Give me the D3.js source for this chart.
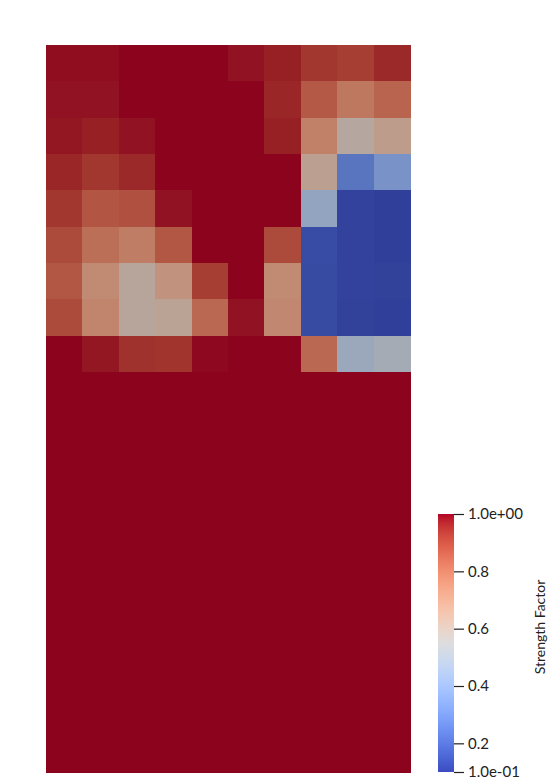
<!DOCTYPE html>
<html>
<head>
<meta charset="utf-8">
<script src="https://cdn.jsdelivr.net/npm/d3@7"></script>
<style>
  body { margin: 0; background: #fff; }
  svg { display: block; }
  text { font-family: "Lato", "Liberation Sans", sans-serif; fill: #222; }
</style>
</head>
<body>
<svg id="chart" width="554" height="784"></svg>
<script>
// Data ------------------------------------------------------------------------------------

// strength factor per cell, top row first, 10 columns x 20 rows
const strengthRows = [
    [0.99, 0.99, 1.00, 1.00, 1.00, 0.985, 0.97, 0.93, 0.915, 0.955],
    [0.985, 0.985, 1.00, 1.00, 1.00, 1.00, 0.96, 0.855, 0.775, 0.83],
    [0.98, 0.97, 0.985, 1.00, 1.00, 1.00, 0.97, 0.75, 0.59, 0.65],
    [0.96, 0.93, 0.955, 1.00, 1.00, 1.00, 1.00, 0.63, 0.26, 0.36],
    [0.93, 0.865, 0.875, 0.985, 1.00, 1.00, 1.00, 0.45, 0.12, 0.11],
    [0.89, 0.80, 0.76, 0.86, 1.00, 1.00, 0.89, 0.145, 0.12, 0.11],
    [0.86, 0.72, 0.60, 0.69, 0.915, 1.00, 0.72, 0.14, 0.12, 0.115],
    [0.89, 0.74, 0.60, 0.62, 0.82, 0.985, 0.73, 0.14, 0.115, 0.11],
    [1.00, 0.98, 0.94, 0.935, 0.995, 1.00, 1.00, 0.82, 0.48, 0.52],
    [1, 1, 1, 1, 1, 1, 1, 1, 1, 1],
    [1, 1, 1, 1, 1, 1, 1, 1, 1, 1],
    [1, 1, 1, 1, 1, 1, 1, 1, 1, 1],
    [1, 1, 1, 1, 1, 1, 1, 1, 1, 1],
    [1, 1, 1, 1, 1, 1, 1, 1, 1, 1],
    [1, 1, 1, 1, 1, 1, 1, 1, 1, 1],
    [1, 1, 1, 1, 1, 1, 1, 1, 1, 1],
    [1, 1, 1, 1, 1, 1, 1, 1, 1, 1],
    [1, 1, 1, 1, 1, 1, 1, 1, 1, 1],
    [1, 1, 1, 1, 1, 1, 1, 1, 1, 1],
    [1, 1, 1, 1, 1, 1, 1, 1, 1, 1]
];

const colorRange = [0.1, 1.0];
const tickValues = [0.2, 0.4, 0.6, 0.8];
const tickLabels = ["0.2", "0.4", "0.6", "0.8"];
const endLabels = ["1.0e-01", "1.0e+00"];
const legendTitle = "Strength Factor";

// cool to warm colour map (Moreland), 33 stops
const coolWarm = [
    [59,76,192],[68,90,204],[77,104,215],[87,117,225],[98,130,234],[108,142,241],
    [119,154,247],[130,165,251],[141,176,254],[152,185,255],[163,194,255],[174,201,253],
    [184,208,249],[194,213,244],[204,217,238],[213,219,230],[221,221,221],[229,216,209],
    [236,211,197],[241,204,185],[245,196,173],[247,187,160],[247,177,148],[247,166,135],
    [244,154,123],[241,141,111],[236,127,99],[229,112,88],[222,96,77],[213,80,66],
    [203,62,56],[192,40,47],[180,4,38]
];

// Colour ----------------------------------------------------------------------------------

const stopDomain = coolWarm.map((c, i) => colorRange[0] + (colorRange[1] - colorRange[0]) * i / (coolWarm.length - 1));
const colorScale = d3.scaleLinear()
    .domain(stopDomain)
    .range(coolWarm.map(c => d3.rgb(c[0], c[1], c[2])))
    .interpolate(d3.interpolateRgb)
    .clamp(true);

// surface is lit, so it looks darker than the bar
const shade = 0.78;
function surfaceColor(v) {
    const c = d3.rgb(colorScale(v));
    return d3.rgb(c.r * shade, c.g * shade, c.b * shade).formatHex();
}

// Draw ------------------------------------------------------------------------------------

const svg = d3.select("#chart");
const nCols = strengthRows[0].length;
const nRows = strengthRows.length;

const x = d3.scaleBand().domain(d3.range(nCols)).range([46, 410]);
const y = d3.scaleBand().domain(d3.range(nRows)).range([45, 772]);

const cells = [];
strengthRows.forEach((row, r) => row.forEach((v, c) => cells.push({ r: r, c: c, v: v })));

svg.append("g")
    .selectAll("rect")
    .data(cells)
    .enter()
    .append("rect")
    .attr("x", d => x(d.c))
    .attr("y", d => y(d.r))
    .attr("width", x.bandwidth() + 0.5)
    .attr("height", y.bandwidth() + 0.5)
    .attr("fill", d => surfaceColor(d.v))
    .attr("shape-rendering", "crispEdges");

// Colour bar ------------------------------------------------------------------------------

const barX = 438, barW = 16;
const barScale = d3.scaleLinear().domain(colorRange).range([772, 514]);

const defs = svg.append("defs");
const grad = defs.append("linearGradient")
    .attr("id", "barGrad")
    .attr("x1", 0).attr("y1", 1).attr("x2", 0).attr("y2", 0);
grad.selectAll("stop")
    .data(coolWarm)
    .enter()
    .append("stop")
    .attr("offset", (d, i) => i / (coolWarm.length - 1))
    .attr("stop-color", d => d3.rgb(d[0], d[1], d[2]).formatHex());

svg.append("rect")
    .attr("x", barX)
    .attr("y", barScale(colorRange[1]))
    .attr("width", barW)
    .attr("height", barScale(colorRange[0]) - barScale(colorRange[1]))
    .attr("fill", "url(#barGrad)");

const axis = d3.axisRight(barScale)
    .tickValues([colorRange[0]].concat(tickValues, [colorRange[1]]))
    .tickFormat((d, i) => i === 0 ? endLabels[0] : (i === tickValues.length + 1 ? endLabels[1] : tickLabels[i - 1]))
    .tickSize(10)
    .tickPadding(4);

const axisG = svg.append("g")
    .attr("transform", "translate(" + (barX + barW) + ",0)")
    .call(axis);
axisG.select(".domain").remove();
axisG.selectAll("line").attr("stroke", "#222").attr("stroke-width", 1.2);
axisG.selectAll("text")
    .attr("font-size", 15)
    .attr("fill", "#222")
    .style("font-family", "Lato, 'Liberation Sans', sans-serif");

svg.append("text")
    .attr("transform", "translate(545,627) rotate(-90)")
    .attr("text-anchor", "middle")
    .attr("font-size", 14)
    .text(legendTitle);
</script>
</body>
</html>
